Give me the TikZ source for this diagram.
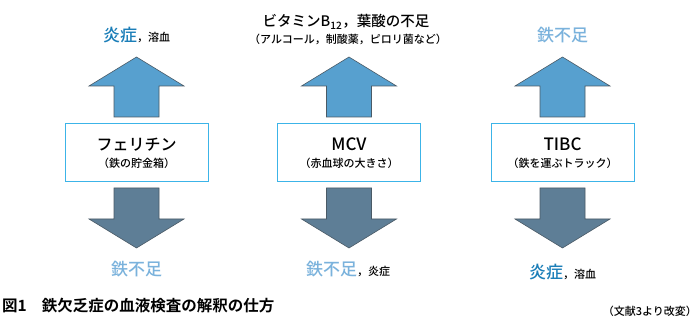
\documentclass[tikz,border=0pt]{standalone}
\usepackage{fontspec}
\setmainfont{Noto Sans CJK JP}[UprightFont={* Medium},BoldFont={* Bold}]
\newfontfamily\capfont{Noto Sans CJK JP}[UprightFont={* Bold}]
\definecolor{upfill}{HTML}{57A0CF}
\definecolor{downfill}{HTML}{5E7E96}
\definecolor{arrowline}{HTML}{4A5A66}
\definecolor{boxline}{HTML}{3CB4E8}
\definecolor{hotblue}{HTML}{1B7EB8}
\definecolor{paleblue}{HTML}{7AB2DC}
\begin{document}
\begin{tikzpicture}[x=1pt,y=-1pt,
  uparrow/.style={fill=upfill,draw=arrowline,line width=0.6pt},
  downarrow/.style={fill=downfill,draw=arrowline,line width=0.6pt},
  testbox/.style={draw=boxline,line width=1pt,fill=white,minimum width=143pt,minimum height=58pt,inner sep=0pt,align=center},
  lbl/.style={anchor=base,inner sep=0pt},
  big/.style={font=\fontsize{17}{20}\selectfont},
  hot/.style={text=hotblue},
  pale/.style={text=paleblue}]
\useasboundingbox (0,0) rectangle (699,323);
\fill[white] (0,0) rectangle (699,323);
% arrows
\foreach \cx in {136.5,349,562.5}{
  \draw[uparrow] (\cx,57) -- (\cx+47.5,86) -- (\cx+22.5,86) -- (\cx+22.5,117)
     -- (\cx-22.5,117) -- (\cx-22.5,86) -- (\cx-47.5,86) -- cycle;
  \draw[downarrow] (\cx-22.5,188) -- (\cx+22.5,188) -- (\cx+22.5,219) -- (\cx+47.5,219)
     -- (\cx,248) -- (\cx-47.5,219) -- (\cx-22.5,219) -- cycle;
}
% boxes
\node[testbox] (ferritin) at (136.5,153) {};
\node[testbox] (mcv) at (349,153) {};
\node[testbox] (tibc) at (562.5,153) {};
\node[lbl,font=\fontsize{16}{19}\selectfont] (fname) at (136.5,151) {フェリチン};
\node[lbl,font=\fontsize{11}{13}\selectfont] (fsub) at (136.5,168) {（鉄の貯金箱）};
\node[lbl,font=\fontsize{17}{19}\selectfont] (mname) at (349,151) {MCV};
\node[lbl,font=\fontsize{11}{13}\selectfont] (msub) at (349,168) {（赤血球の大きさ）};
\node[lbl,font=\fontsize{17}{19}\selectfont] (tname) at (562.5,151) {TIBC};
\node[lbl,font=\fontsize{11}{13}\selectfont] (tsub) at (562.5,168) {（鉄を運ぶトラック）};
% top labels
\node[lbl] (ftop) at (136.5,42) {{\fontsize{17}{20}\selectfont\color{hotblue}炎症}{\fontsize{11}{13}\selectfont，溶血}};
\node[lbl,font=\fontsize{14.5}{17}\selectfont] (mtop1) at (346,27) {ビタミンB\textsubscript{12}，葉酸の不足};
\node[lbl,font=\fontsize{11}{13}\selectfont] (mtop2) at (348,44) {（アルコール，制酸薬，ピロリ菌など）};
\node[lbl,big,pale] (ttop) at (562.5,42) {鉄不足};
% bottom labels
\node[lbl,big,pale] (fbot) at (136.5,276) {鉄不足};
\node[lbl] (mbot) at (348,276) {{\fontsize{17}{20}\selectfont\color{paleblue}鉄不足}{\fontsize{11}{13}\selectfont，炎症}};
\node[lbl] (tbot) at (562.5,278) {{\fontsize{17}{20}\selectfont\color{hotblue}炎症}{\fontsize{11}{13}\selectfont，溶血}};
% caption
\node[anchor=base west,inner sep=0pt,font=\capfont\fontsize{15.5}{18}\selectfont] (cap) at (2,312) {図1\hspace{15pt}鉄欠乏症の血液検査の解釈の仕方};
\node[anchor=base east,inner sep=0pt,font=\fontsize{11}{13}\selectfont] (src) at (697,315) {（文献3より改変）};
\end{tikzpicture}
\end{document}
